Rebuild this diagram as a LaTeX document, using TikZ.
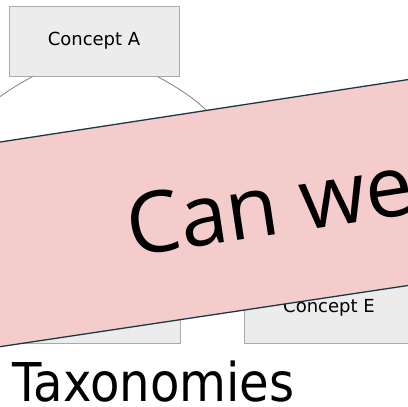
\documentclass[tikz,border=0pt]{standalone}
\usepackage{fontspec}
\setmainfont{DejaVu Sans}
\newfontfamily\bannerfont{Open Sans}
\newfontfamily\titlefont[FakeStretch=0.9]{DejaVu Sans}
\usetikzlibrary{calc}
\definecolor{boxfill}{RGB}{236,236,236}
\definecolor{boxdraw}{RGB}{170,170,170}
\definecolor{linkgray}{RGB}{140,140,140}
\definecolor{bannerfill}{RGB}{244,204,204}
\definecolor{bannerline}{RGB}{30,55,70}
\begin{document}
\begin{tikzpicture}[x=1pt,y=-1pt,
  concept/.style={draw=boxdraw, fill=boxfill, line width=1pt, minimum width=170pt, minimum height=70pt, inner sep=0pt, font=\fontsize{18}{20}\selectfont, text=black},
  link/.style={draw=linkgray, line width=0.9pt},
  banner/.style={fill=bannerfill, draw=bannerline, line width=1.3pt}]
\useasboundingbox (0,0) rectangle (408,407);
\clip (0,0) rectangle (408,407);
\node[concept] (A) at (94,41) {Concept A};
\node[concept] (D) at (95,308) {};
\node[concept] (E) at (329,308) {Concept E};
\coordinate (B) at (-38,145);
\coordinate (C) at (228,145);
\draw[link] ($(A.south west)!0.141!(A.south east)$) .. controls +(-33,18) and +(8,-30) .. (B);
\draw[link] ($(A.south west)!0.871!(A.south east)$) .. controls +(33,18) and +(-8,-30) .. (C);
\draw[banner] (-20,145.1) -- (430,76.2) -- (430,282.2) -- (-20,349.7) -- cycle;
\node[anchor=base west, rotate=8.64, inner sep=0pt, font=\bannerfont\fontsize{85}{92}\selectfont] (cw) at (131,256.5) {Can we};
\node[anchor=base west, inner sep=0pt, font=\titlefont\fontsize{53.5}{60}\selectfont] (T) at (12,401) {Taxonomies};
\end{tikzpicture}
\end{document}
